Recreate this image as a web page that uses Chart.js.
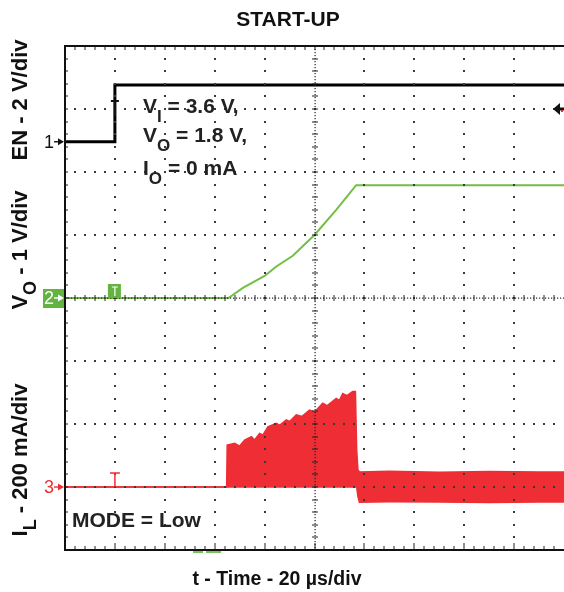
<!DOCTYPE html>
<html>
<head>
<meta charset="utf-8">
<title>Start-up</title>
<script src="https://cdn.jsdelivr.net/npm/chart.js@4.4.1/dist/chart.umd.min.js"></script>
<style>
  html, body { margin: 0; padding: 0; background: #fff; }
  canvas { display: block; }
</style>
</head>
<body>
<canvas id="scope" width="564" height="592"></canvas>
<script>
// Time base: 20 us/div, 10 divisions, trigger at t = 0
const timeMin = -20;
const timeMax = 180;
const timePerDiv = 20;

// Channel 1 - EN (V), 2 V/div, ground at 6.48 div from bottom
const enTime = [-20, 0, 0, 180];
const enVolts = [0, 0, 1.8, 1.8];

// Channel 2 - VO (V), 1 V/div, ground at 4 div
const voTime = [-20, 45.5, 51.3, 60, 64.7, 71.3, 80, 88.7, 96.7, 180];
const voVolts = [0, 0, 0.16, 0.35, 0.5, 0.67, 1.0, 1.4, 1.79, 1.79];

// Channel 3 - IL (mA), 200 mA/div, ground at 1 div (ripple envelope)
const ilTime  = [-20, 44.8, 45, 48, 50, 52, 54.7, 56, 58, 59.3, 61.3, 64.7, 66, 68.7, 70, 72.7, 75, 78, 80, 83.3, 85, 88.7, 90, 91.3, 93, 95.3, 96.4, 96.9, 97.4, 98, 110, 130, 150, 170, 180];
const ilUpper = [0, 0, 133, 139, 130, 149, 160, 149, 170, 165, 191, 202, 196, 213, 208, 229, 224, 244, 238, 266, 258, 281, 275, 297, 290, 303, 303, 120, 55, 48, 50, 47, 49, 48, 48];
const ilLower = [0, 0, 0, 0, 0, 0, 0, 0, 0, 0, 0, 0, 0, 0, 0, 0, 0, 0, 0, 0, 0, 0, 0, 0, 0, 0, 0, 0, -30, -48, -47, -48, -49, -48, -48];

// Channel scale settings (value per division, zero level in divisions)
const channels = {
    en: { perDiv: 2, zeroDiv: 6.48 },
    vo: { perDiv: 1, zeroDiv: 4 },
    il: { perDiv: 200, zeroDiv: 1 }
};
const totalDivs = 8;

const FONT = '"Liberation Sans", Arial, Helvetica, sans-serif';
const RED = '#ee2d35';
const GREEN = '#72bf44';
const GREEN_BOX = '#62b340';

function toPoints(xs, ys) {
    return xs.map((x, i) => ({ x: x, y: ys[i] }));
}

function axisFor(ch) {
    return {
        type: 'linear',
        display: false,
        min: -ch.zeroDiv * ch.perDiv,
        max: (totalDivs - ch.zeroDiv) * ch.perDiv
    };
}

// Draw text with subscripts: parts = [[text, isSub], ...]
function drawRich(ctx, parts, x, y, size, align) {
    const subSize = Math.round(size * 0.8);
    const widths = parts.map(p => {
        ctx.font = `bold ${p[1] ? subSize : size}px ${FONT}`;
        return ctx.measureText(p[0]).width;
    });
    const total = widths.reduce((a, b) => a + b, 0);
    let cx = align === 'center' ? x - total / 2 : x;
    ctx.textAlign = 'left';
    ctx.textBaseline = 'alphabetic';
    parts.forEach((p, i) => {
        ctx.font = `bold ${p[1] ? subSize : size}px ${FONT}`;
        ctx.fillText(p[0], cx, p[1] ? y + size * 0.42 : y);
        cx += widths[i];
    });
}

function drawArrowMarker(ctx, label, yPix, color, boxed) {
    ctx.save();
    if (boxed) {
        ctx.fillStyle = GREEN_BOX;
        ctx.fillRect(43, yPix - 9, 21, 19);
        color = '#fff';
    }
    ctx.fillStyle = color;
    ctx.strokeStyle = color;
    ctx.font = `18px ${FONT}`;
    ctx.textAlign = 'left';
    ctx.textBaseline = 'middle';
    ctx.fillText(label, 44, yPix + 1);
    ctx.lineWidth = 1.4;
    ctx.beginPath();
    ctx.moveTo(54, yPix);
    ctx.lineTo(61, yPix);
    ctx.stroke();
    ctx.beginPath();
    ctx.moveTo(64, yPix);
    ctx.lineTo(58, yPix - 3.5);
    ctx.lineTo(58, yPix + 3.5);
    ctx.closePath();
    ctx.fill();
    ctx.restore();
}

// Oscilloscope graticule, drawn over the traces
const graticule = {
    id: 'graticule',
    afterDatasetsDraw(chart) {
        const ctx = chart.ctx;
        const { left, right, top, bottom } = chart.chartArea;
        const xs = chart.scales.x;
        const ys = chart.scales.yVO;
        const xAt = i => Math.round(xs.getPixelForValue(timeMin + i * timePerDiv / 5));
        const yAt = j => Math.round(ys.getPixelForValue(-4 + j * 0.2));
        const xDivs = (timeMax - timeMin) / timePerDiv;

        ctx.save();
        ctx.fillStyle = '#3a3a3a';
        // dotted major lines
        for (let i = 1; i < xDivs; i++) {
            if (i === xDivs / 2) continue;
            const x = xAt(i * 5);
            for (let j = 1; j < totalDivs * 5; j++) ctx.fillRect(x - 1, yAt(j) - 1, 2, 2);
        }
        for (let k = 1; k < totalDivs; k++) {
            if (k === totalDivs / 2) continue;
            const y = yAt(k * 5);
            for (let i = 1; i < xDivs * 5; i++) ctx.fillRect(xAt(i) - 1, y - 1, 2, 2);
        }
        // centre lines with minor ticks
        const cx = xAt(xDivs * 5 / 2);
        const cy = yAt(totalDivs * 5 / 2);
        ctx.fillStyle = '#222';
        for (let y = top; y < bottom; y += 3) ctx.fillRect(cx - 0.5, y, 1.2, 1.2);
        for (let x = left; x < right; x += 3) ctx.fillRect(x, cy - 0.5, 1.2, 1.2);
        ctx.strokeStyle = '#222';
        ctx.lineWidth = 1.5;
        ctx.beginPath();
        for (let j = 1; j < totalDivs * 5; j++) {
            ctx.moveTo(cx - 3, yAt(j));
            ctx.lineTo(cx + 3, yAt(j));
        }
        for (let i = 1; i < xDivs * 5; i++) {
            ctx.moveTo(xAt(i), cy - 3);
            ctx.lineTo(xAt(i), cy + 3);
        }
        // edge ticks
        ctx.lineWidth = 1;
        for (let i = 1; i < xDivs * 5; i++) {
            const len = i % 5 === 0 ? 7 : 4;
            ctx.moveTo(xAt(i), top);
            ctx.lineTo(xAt(i), top + 4);
            ctx.moveTo(xAt(i), bottom);
            ctx.lineTo(xAt(i), bottom - len);
        }
        for (let j = 1; j < totalDivs * 5; j++) {
            ctx.moveTo(left, yAt(j));
            ctx.lineTo(left + 3, yAt(j));
        }
        ctx.stroke();

        // frame (left, top, bottom)
        ctx.strokeStyle = '#111';
        ctx.lineWidth = 2;
        ctx.beginPath();
        ctx.moveTo(right, top);
        ctx.lineTo(left, top);
        ctx.lineTo(left, bottom);
        ctx.lineTo(right, bottom);
        ctx.stroke();
        ctx.restore();
    },
    afterDraw(chart) {
        const ctx = chart.ctx;
        const xs = chart.scales.x;
        const x0 = xs.getPixelForValue(0);
        const enZero = chart.scales.yEN.getPixelForValue(0);
        const voZero = chart.scales.yVO.getPixelForValue(0);
        const ilZero = chart.scales.yIL.getPixelForValue(0);

        ctx.save();
        // channel ground markers
        drawArrowMarker(ctx, '1', enZero, '#111', false);
        drawArrowMarker(ctx, '2', voZero, '#fff', true);
        drawArrowMarker(ctx, '3', ilZero, RED, false);

        // trigger position markers
        ctx.lineWidth = 2;
        ctx.strokeStyle = '#111';
        ctx.beginPath();
        ctx.moveTo(x0 - 4, 101); ctx.lineTo(x0 + 4, 101);
        ctx.moveTo(x0, 101); ctx.lineTo(x0, 116);
        ctx.stroke();

        ctx.fillStyle = GREEN_BOX;
        ctx.fillRect(x0 - 7, voZero - 14, 13, 14);
        ctx.strokeStyle = '#fff';
        ctx.lineWidth = 1.2;
        ctx.beginPath();
        ctx.moveTo(x0 - 3, voZero - 11); ctx.lineTo(x0 + 3, voZero - 11);
        ctx.moveTo(x0, voZero - 11); ctx.lineTo(x0, voZero - 2);
        ctx.stroke();

        ctx.strokeStyle = RED;
        ctx.lineWidth = 1.5;
        ctx.beginPath();
        ctx.moveTo(x0 - 5, ilZero - 14); ctx.lineTo(x0 + 5, ilZero - 14);
        ctx.moveTo(x0, ilZero - 14); ctx.lineTo(x0, ilZero);
        ctx.stroke();

        // trigger level arrow on the right edge
        const yTrig = chart.scales.yVO.getPixelForValue(3);
        ctx.fillStyle = '#111';
        ctx.beginPath();
        ctx.moveTo(553, yTrig);
        ctx.lineTo(560, yTrig - 6);
        ctx.lineTo(560, yTrig + 6);
        ctx.closePath();
        ctx.fill();
        ctx.fillRect(559, yTrig - 1.5, 5, 3);
        ctx.fillStyle = RED;
        ctx.fillRect(561, yTrig + 1, 2, 2);

        // small position bars below the frame
        ctx.fillStyle = '#7cc25a';
        ctx.fillRect(193, 551, 10, 2);
        ctx.fillRect(206, 551, 15, 2);

        // titles and annotations
        ctx.fillStyle = '#111';
        drawRich(ctx, [['START-UP', false]], 288, 26, 21, 'center');
        drawRich(ctx, [['t - Time - 20 \u00b5s/div', false]], 277, 585, 19.5, 'center');
        ctx.fillStyle = '#222';
        drawRich(ctx, [['V', false], ['I', true], [' = 3.6 V,', false]], 143, 113, 21);
        drawRich(ctx, [['V', false], ['O', true], [' = 1.8 V,', false]], 143, 142, 21);
        drawRich(ctx, [['I', false], ['O', true], [' = 0 mA', false]], 143, 175, 21);
        drawRich(ctx, [['MODE = Low', false]], 72, 527, 21);

        // rotated channel scale labels
        const yLabels = [
            { parts: [['EN - 2 V/div', false]], y: 100 },
            { parts: [['V', false], ['O', true], [' - 1 V/div', false]], y: 250 },
            { parts: [['I', false], ['L', true], [' - 200 mA/div', false]], y: 460 }
        ];
        ctx.fillStyle = '#111';
        yLabels.forEach(lab => {
            ctx.save();
            ctx.translate(27, lab.y);
            ctx.rotate(-Math.PI / 2);
            drawRich(ctx, lab.parts, 0, 0, 22, 'center');
            ctx.restore();
        });
        ctx.restore();
    }
};

const ctx = document.getElementById('scope').getContext('2d');
new Chart(ctx, {
    type: 'line',
    data: {
        datasets: [
            {
                label: 'EN',
                data: toPoints(enTime, enVolts),
                yAxisID: 'yEN',
                borderColor: '#000',
                borderWidth: 3,
                borderJoinStyle: 'miter',
                fill: false
            },
            {
                label: 'VO',
                data: toPoints(voTime, voVolts),
                yAxisID: 'yVO',
                borderColor: GREEN,
                borderWidth: 2,
                fill: false
            },
            {
                label: 'IL max',
                data: toPoints(ilTime, ilUpper),
                yAxisID: 'yIL',
                borderColor: RED,
                backgroundColor: RED,
                borderWidth: 1.5,
                fill: '+1'
            },
            {
                label: 'IL min',
                data: toPoints(ilTime, ilLower),
                yAxisID: 'yIL',
                borderColor: RED,
                borderWidth: 1.5,
                fill: false
            }
        ]
    },
    options: {
        responsive: false,
        devicePixelRatio: 1,
        animation: false,
        elements: {
            point: { radius: 0 },
            line: { tension: 0 }
        },
        layout: {
            padding: { left: 65, top: 46, right: 0, bottom: 42 }
        },
        scales: {
            x: { type: 'linear', display: false, min: timeMin, max: timeMax },
            yEN: axisFor(channels.en),
            yVO: axisFor(channels.vo),
            yIL: axisFor(channels.il)
        },
        plugins: {
            legend: { display: false },
            tooltip: { enabled: false },
            title: { display: false }
        }
    },
    plugins: [graticule]
});
</script>
</body>
</html>
